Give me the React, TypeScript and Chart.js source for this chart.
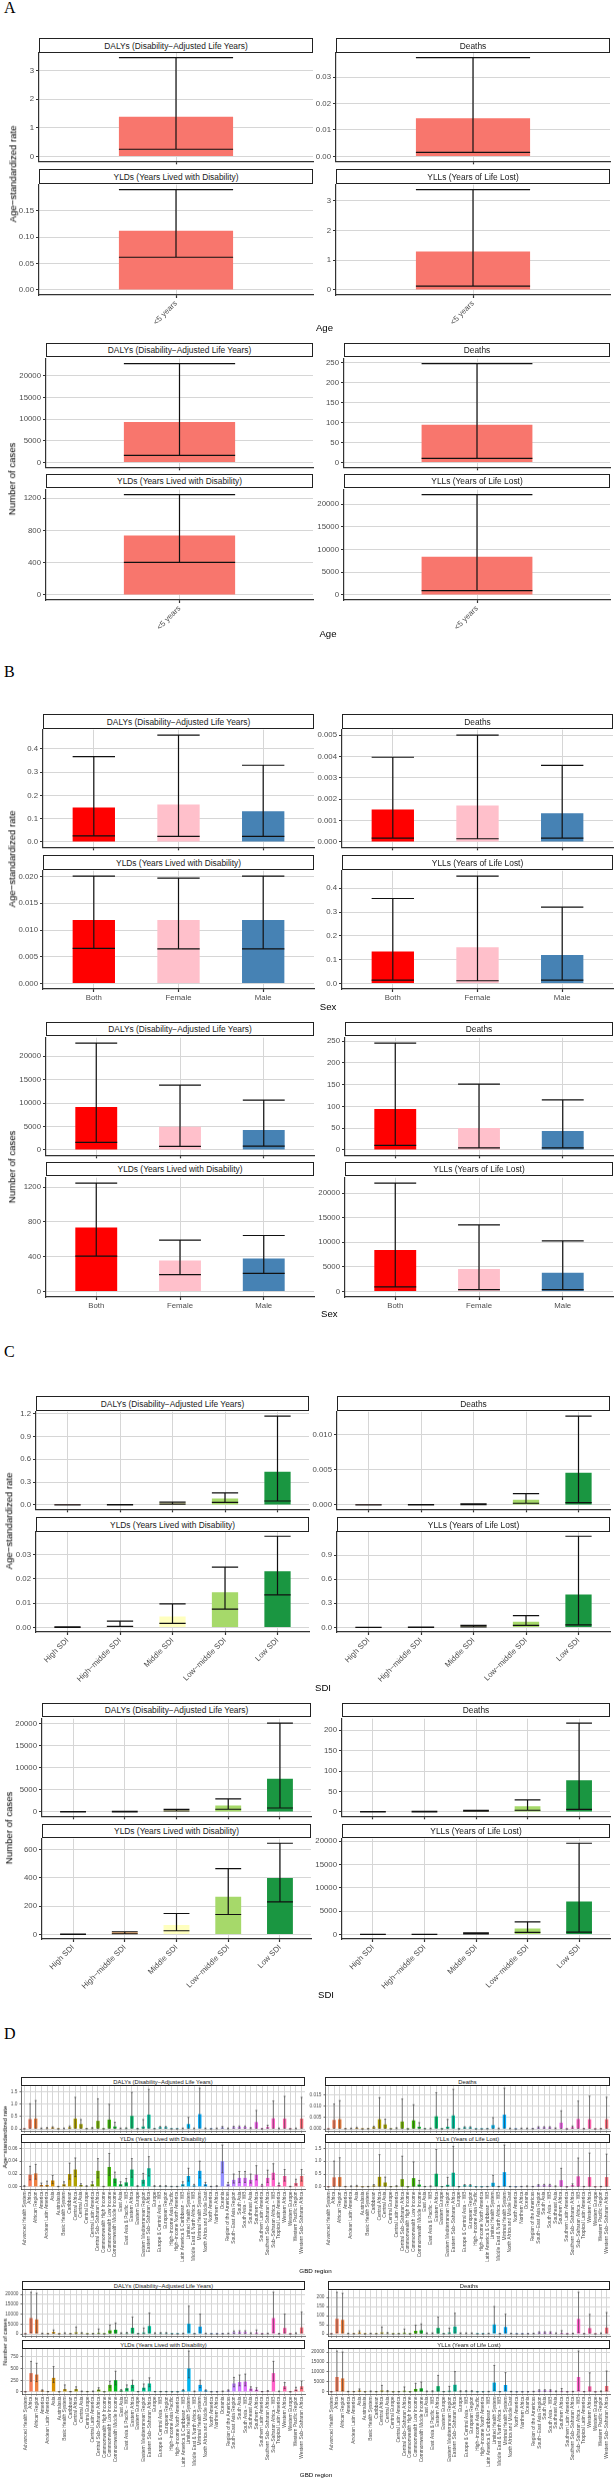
import { useEffect, useRef } from 'react';
import { Chart, registerables, CategoryScale } from 'chart.js';

// Discrete x scale with ggplot2-like expansion (0.6 of a category on each side).
class PanelCategoryScale extends CategoryScale {
  static id = 'panelcategory';
  static defaults = CategoryScale.defaults;
  buildTicks() {
    const ticks = super.buildTicks();
    this.expandRange();
    return ticks;
  }
  configure() {
    super.configure();
    this.expandRange();
  }
  expandRange() {
    (this as any)._startValue = (this as any).min - 0.6;
    (this as any)._valueRange = (this as any).max - (this as any).min + 1.2;
  }
}
Chart.register(...registerables, PanelCategoryScale);

// ---------------- categories ----------------
const MEASURES = [
  'DALYs (Disability−Adjusted Life Years)',
  'Deaths',
  'YLDs (Years Lived with Disability)',
  'YLLs (Years of Life Lost)',
];
const AGE_GROUPS = ['<5 years'];
const SEXES = ['Both', 'Female', 'Male'];
const SDI_LEVELS = ['High SDI', 'High−middle SDI', 'Middle SDI', 'Low−middle SDI', 'Low SDI'];
const GBD_REGIONS = [
  'Advanced Health System', 'Africa', 'African Region', 'America', 'Andean Latin America', 'Asia', 'Australasia', 'Basic Health System', 'Caribbean', 'Central Africa',
  'Central Asia', 'Central Europe', 'Central Latin America', 'Central Sub−Saharan Africa', 'Commonwealth High Income', 'Commonwealth Low Income', 'Commonwealth Middle Income', 'East Asia', 'East Asia & Pacific − WB', 'Eastern Africa',
  'Eastern Europe', 'Eastern Mediterranean Region', 'Eastern Sub−Saharan Africa', 'Europe', 'Europe & Central Asia − WB', 'European Region', 'High−income Asia Pacific', 'High−income North America', 'Latin America & Caribbean − WB', 'Limited Health System',
  'Middle East & North Africa − WB', 'Minimal Health System', 'North Africa and Middle East', 'North America', 'Northern Africa', 'Oceania', 'Region of the Americas', 'South−East Asia Region', 'South Asia', 'South Asia − WB',
  'Southeast Asia', 'Southern Africa', 'Southern Latin America', 'Southern Sub−Saharan Africa', 'Sub−Saharan Africa − WB', 'Tropical Latin America', 'Western Africa', 'Western Europe', 'Western Pacific Region', 'Western Sub−Saharan Africa',
];

// ---------------- tick labels ----------------
const TICKS_0_3 = ['0', '1', '2', '3'];
const TICKS_0_003 = ['0.00', '0.01', '0.02', '0.03'];
const TICKS_0_015 = ['0.00', '0.05', '0.10', '0.15'];
const TICKS_CASES_20K = ['0', '5000', '10000', '15000', '20000'];
const TICKS_CASES_250 = ['0', '50', '100', '150', '200', '250'];
const TICKS_CASES_200 = ['0', '50', '100', '150', '200'];
const TICKS_CASES_1200 = ['0', '400', '800', '1200'];
const TICKS_0_04 = ['0.0', '0.1', '0.2', '0.3', '0.4'];
const TICKS_0_0005 = ['0.000', '0.001', '0.002', '0.003', '0.004', '0.005'];
const TICKS_0_0020 = ['0.000', '0.005', '0.010', '0.015', '0.020'];
const TICKS_0_12 = ['0.0', '0.3', '0.6', '0.9', '1.2'];
const TICKS_0_0010 = ['0.000', '0.005', '0.010'];
const TICKS_0_03B = ['0.00', '0.01', '0.02', '0.03'];
const TICKS_0_09 = ['0.0', '0.3', '0.6', '0.9'];
const TICKS_CASES_600 = ['0', '200', '400', '600'];
const TICKS_0_15 = ['0.0', '0.5', '1.0', '1.5'];
const TICKS_0_0015 = ['0.000', '0.005', '0.010', '0.015'];
const TICKS_0_006 = ['0.00', '0.02', '0.04', '0.06'];
const TICKS_CASES_750 = ['0', '250', '500', '750'];

// ---------------- A: age ----------------
const ageRateDalys = [1.39], ageRateDalysLow = [0.25], ageRateDalysHigh = [3.46];
const ageRateDeaths = [0.0144], ageRateDeathsLow = [0.0015], ageRateDeathsHigh = [0.0374];
const ageRateYlds = [0.112], ageRateYldsLow = [0.062], ageRateYldsHigh = [0.19];
const ageRateYlls = [1.29], ageRateYllsLow = [0.13], ageRateYllsHigh = [3.37];
const ageCasesDalys = [9300], ageCasesDalysLow = [1600], ageCasesDalysHigh = [22800];
const ageCasesDeaths = [94], ageCasesDeathsLow = [10], ageCasesDeathsHigh = [247];
const ageCasesYlds = [737], ageCasesYldsLow = [405], ageCasesYldsHigh = [1245];
const ageCasesYlls = [8440], ageCasesYllsLow = [945], ageCasesYllsHigh = [22110];

// ---------------- B: sex ----------------
const sexRateDalys = [0.148, 0.161, 0.132], sexRateDalysLow = [0.026, 0.024, 0.024], sexRateDalysHigh = [0.367, 0.46, 0.33];
const sexRateDeaths = [0.00152, 0.00171, 0.00134], sexRateDeathsLow = [0.00018, 0.00015, 0.00018], sexRateDeathsHigh = [0.00396, 0.005, 0.00358];
const sexRateYlds = [0.0119, 0.0119, 0.0119], sexRateYldsLow = [0.0066, 0.0065, 0.0065], sexRateYldsHigh = [0.0201, 0.0197, 0.0201];
const sexRateYlls = [0.135, 0.152, 0.12], sexRateYllsLow = [0.015, 0.012, 0.015], sexRateYllsHigh = [0.357, 0.451, 0.321];
const sexCasesDalys = [9170, 4930, 4240], sexCasesDalysLow = [1600, 760, 830], sexCasesDalysHigh = [22780, 13820, 10630];
const sexCasesDeaths = [94, 50.3, 43.5], sexCasesDeathsLow = [10.5, 5, 5], sexCasesDeathsHigh = [245.5, 151, 115];
const sexCasesYlds = [735, 358, 381], sexCasesYldsLow = [408, 194, 210], sexCasesYldsHigh = [1246, 590, 644];
const sexCasesYlls = [8420, 4580, 3840], sexCasesYllsLow = [940, 400, 400], sexCasesYllsHigh = [22020, 13535, 10300];

// ---------------- C: SDI ----------------
const sdiRateDalys = [0.001, 0.003, 0.03, 0.085, 0.434], sdiRateDalysLow = [0.0003, 0.001, 0.01, 0.034, 0.051], sdiRateDalysHigh = [0.002, 0.005, 0.035, 0.157, 1.166];
const sdiRateDeaths = [0.00001, 0.00002, 0.0001, 0.00074, 0.00458], sdiRateDeathsLow = [0.000003, 0.00001, 0.00004, 0.00023, 0.00032], sdiRateDeathsHigh = [0.00002, 0.00004, 0.00015, 0.00162, 0.01269];
const sdiRateYlds = [0.0001, 0.0006, 0.00452, 0.01452, 0.0232], sdiRateYldsLow = [0.00005, 0.0004, 0.00164, 0.00753, 0.01342], sdiRateYldsHigh = [0.0002, 0.0026, 0.00973, 0.02486, 0.03764];
const sdiRateYlls = [0.001, 0.003, 0.02, 0.07, 0.411], sdiRateYllsLow = [0.0003, 0.001, 0.008, 0.025, 0.033], sdiRateYllsHigh = [0.002, 0.005, 0.025, 0.148, 1.134];
const sdiCasesDalys = [30, 60, 400, 1470, 7470], sdiCasesDalysLow = [10, 20, 200, 590, 880], sdiCasesDalysHigh = [60, 120, 550, 2930, 20070];
const sdiCasesDeaths = [0.3, 0.5, 3, 13.5, 77.8], sdiCasesDeathsLow = [0.1, 0.2, 1.5, 4, 6.3], sdiCasesDeathsHigh = [0.6, 1, 4, 29.4, 217.5];
const sdiCasesYlds = [1, 16, 66, 266, 400], sdiCasesYldsLow = [0.5, 5, 26, 141, 231], sdiCasesYldsHigh = [2, 19, 148, 466, 645];
const sdiCasesYlls = [10, 20, 300, 1290, 7070], sdiCasesYllsLow = [3, 8, 100, 430, 500], sdiCasesYllsHigh = [20, 40, 350, 2710, 19570];

// ---------------- D: GBD region (age-standardized rate) ----------------
const regRateDalys = [
  0.005, 0.40, 0.42, 0.02, 0.03, 0.06, 0.005, 0.02, 0.07, 0.42,
  0.20, 0.01, 0.03, 0.33, 0.005, 0.38, 0.10, 0.02, 0.03, 0.53,
  0.01, 0.10, 0.58, 0.01, 0.07, 0.07, 0.005, 0.005, 0.02, 0.20,
  0.02, 0.60, 0.02, 0.005, 0.02, 0.06, 0.02, 0.07, 0.08, 0.08,
  0.03, 0.28, 0.005, 0.08, 0.43, 0.02, 0.42, 0.005, 0.02, 0.42];
const regRateDalysLow = [
  0.001, 0.03, 0.03, 0.005, 0.01, 0.03, 0.001, 0.005, 0.02, 0.03,
  0.03, 0.003, 0.01, 0.02, 0.001, 0.03, 0.02, 0.005, 0.01, 0.04,
  0.003, 0.02, 0.04, 0.003, 0.03, 0.03, 0.001, 0.001, 0.005, 0.02,
  0.005, 0.04, 0.005, 0.001, 0.005, 0.03, 0.005, 0.03, 0.03, 0.03,
  0.01, 0.03, 0.001, 0.03, 0.03, 0.005, 0.03, 0.001, 0.005, 0.03];
const regRateDalysHigh = [
  0.01, 1.02, 1.15, 0.04, 0.06, 0.09, 0.01, 0.04, 0.12, 1.28,
  0.38, 0.02, 0.06, 1.22, 0.01, 1.00, 0.27, 0.04, 0.05, 1.48,
  0.02, 0.38, 1.60, 0.02, 0.10, 0.10, 0.01, 0.01, 0.04, 0.47,
  0.04, 1.65, 0.04, 0.01, 0.04, 0.10, 0.04, 0.11, 0.12, 0.12,
  0.06, 0.75, 0.01, 0.15, 1.13, 0.04, 1.32, 0.01, 0.04, 1.28];
const regRateDeaths = [
  0.00002, 0.0040, 0.0043, 0.0001, 0.0002, 0.0005, 0.00002, 0.0001, 0.0008, 0.0043,
  0.0020, 0.00005, 0.0003, 0.0033, 0.00002, 0.0038, 0.0010, 0.0001, 0.0002, 0.0056,
  0.00005, 0.0010, 0.0060, 0.00005, 0.0007, 0.0007, 0.00002, 0.00002, 0.0001, 0.0017,
  0.0002, 0.0063, 0.0002, 0.00002, 0.0002, 0.0002, 0.0001, 0.0007, 0.0007, 0.0007,
  0.0003, 0.0028, 0.00002, 0.0008, 0.0044, 0.0001, 0.0043, 0.00002, 0.0001, 0.0043];
const regRateDeathsLow = [
  0.00001, 0.0003, 0.0003, 0.00003, 0.00005, 0.0002, 0.00001, 0.00003, 0.0003, 0.0003,
  0.0003, 0.00002, 0.0001, 0.0002, 0.00001, 0.0003, 0.0002, 0.00003, 0.00005, 0.0004,
  0.00002, 0.0002, 0.0004, 0.00002, 0.0003, 0.0003, 0.00001, 0.00001, 0.00003, 0.0002,
  0.00005, 0.0004, 0.00005, 0.00001, 0.00005, 0.00005, 0.00003, 0.0003, 0.0003, 0.0003,
  0.0001, 0.0002, 0.00001, 0.0003, 0.0003, 0.00003, 0.0003, 0.00001, 0.00003, 0.0003];
const regRateDeathsHigh = [
  0.00004, 0.0110, 0.0125, 0.0002, 0.0004, 0.0008, 0.00004, 0.0002, 0.0012, 0.0138,
  0.0043, 0.0001, 0.0006, 0.0132, 0.00004, 0.0107, 0.0028, 0.0002, 0.0004, 0.0160,
  0.0001, 0.0042, 0.0175, 0.0001, 0.0010, 0.0010, 0.00004, 0.00004, 0.0002, 0.0050,
  0.0004, 0.0180, 0.0004, 0.00004, 0.0004, 0.0004, 0.0002, 0.0010, 0.0010, 0.0010,
  0.0005, 0.0080, 0.00004, 0.0013, 0.0123, 0.0002, 0.0145, 0.00004, 0.0002, 0.0140];
const regRateYlds = [
  0.001, 0.019, 0.021, 0.003, 0.003, 0.010, 0.0005, 0.004, 0.020, 0.027,
  0.003, 0.001, 0.004, 0.025, 0.0005, 0.031, 0.013, 0.004, 0.007, 0.027,
  0.001, 0.011, 0.029, 0.001, 0.001, 0.001, 0.0005, 0.0005, 0.004, 0.017,
  0.002, 0.025, 0.004, 0.0005, 0.001, 0.040, 0.004, 0.011, 0.014, 0.014,
  0.011, 0.019, 0.002, 0.014, 0.022, 0.003, 0.017, 0.0005, 0.006, 0.017];
const regRateYldsLow = [
  0.0005, 0.011, 0.012, 0.0015, 0.001, 0.005, 0.0002, 0.002, 0.012, 0.016,
  0.0015, 0.0005, 0.002, 0.014, 0.0002, 0.018, 0.007, 0.002, 0.003, 0.015,
  0.0005, 0.006, 0.017, 0.0005, 0.0005, 0.0005, 0.0002, 0.0002, 0.002, 0.009,
  0.001, 0.014, 0.002, 0.0002, 0.0005, 0.022, 0.002, 0.006, 0.007, 0.007,
  0.006, 0.011, 0.001, 0.007, 0.012, 0.0015, 0.009, 0.0002, 0.003, 0.009];
const regRateYldsHigh = [
  0.002, 0.032, 0.035, 0.006, 0.009, 0.018, 0.001, 0.008, 0.037, 0.045,
  0.005, 0.002, 0.008, 0.044, 0.001, 0.052, 0.023, 0.008, 0.013, 0.044,
  0.002, 0.021, 0.047, 0.002, 0.002, 0.002, 0.001, 0.001, 0.008, 0.029,
  0.004, 0.040, 0.007, 0.001, 0.002, 0.065, 0.007, 0.020, 0.024, 0.024,
  0.020, 0.033, 0.004, 0.026, 0.036, 0.006, 0.027, 0.001, 0.012, 0.027];
const regRateYlls = [
  0.001, 0.37, 0.38, 0.01, 0.02, 0.03, 0.001, 0.01, 0.05, 0.39,
  0.17, 0.005, 0.03, 0.30, 0.001, 0.34, 0.09, 0.01, 0.02, 0.51,
  0.005, 0.08, 0.55, 0.005, 0.06, 0.06, 0.001, 0.001, 0.01, 0.16,
  0.01, 0.57, 0.01, 0.001, 0.01, 0.02, 0.01, 0.06, 0.06, 0.06,
  0.02, 0.26, 0.001, 0.07, 0.41, 0.01, 0.38, 0.001, 0.01, 0.38];
const regRateYllsLow = [
  0.0005, 0.02, 0.02, 0.003, 0.005, 0.01, 0.0005, 0.003, 0.02, 0.02,
  0.02, 0.002, 0.01, 0.02, 0.0005, 0.02, 0.02, 0.003, 0.005, 0.03,
  0.002, 0.02, 0.03, 0.002, 0.02, 0.02, 0.0005, 0.0005, 0.003, 0.02,
  0.003, 0.03, 0.003, 0.0005, 0.003, 0.005, 0.003, 0.02, 0.02, 0.02,
  0.005, 0.02, 0.0005, 0.02, 0.02, 0.003, 0.02, 0.0005, 0.003, 0.02];
const regRateYllsHigh = [
  0.002, 1.00, 1.13, 0.02, 0.04, 0.06, 0.002, 0.02, 0.09, 1.25,
  0.38, 0.01, 0.05, 1.19, 0.002, 0.97, 0.25, 0.02, 0.04, 1.45,
  0.01, 0.37, 1.57, 0.01, 0.09, 0.09, 0.002, 0.002, 0.02, 0.45,
  0.02, 1.62, 0.02, 0.002, 0.02, 0.04, 0.02, 0.09, 0.10, 0.10,
  0.04, 0.72, 0.002, 0.12, 1.12, 0.02, 1.31, 0.002, 0.02, 1.27];

// ---------------- D: GBD region (number of cases) ----------------
const regCasesDalys = [
  50, 8000, 7300, 200, 100, 1000, 50, 300, 100, 800,
  400, 30, 100, 600, 30, 1800, 2100, 300, 400, 3100,
  100, 700, 4000, 300, 400, 400, 50, 50, 200, 5200,
  100, 3700, 200, 50, 50, 100, 200, 800, 900, 900,
  300, 700, 50, 200, 8000, 100, 3000, 30, 300, 3300];
const regCasesDalysLow = [
  10, 700, 600, 50, 30, 300, 10, 100, 30, 100,
  100, 10, 30, 100, 10, 400, 500, 100, 100, 500,
  30, 100, 600, 100, 100, 100, 10, 10, 50, 1000,
  30, 600, 50, 10, 10, 30, 50, 200, 200, 200,
  100, 100, 10, 50, 700, 30, 500, 10, 100, 600];
const regCasesDalysHigh = [
  100, 21000, 20500, 400, 200, 2000, 100, 600, 200, 3500,
  700, 60, 200, 2500, 60, 4500, 5500, 600, 800, 8500,
  200, 3000, 10500, 600, 700, 700, 100, 100, 400, 14000,
  200, 10000, 400, 100, 100, 200, 400, 1500, 1600, 1600,
  600, 2000, 100, 400, 21000, 200, 10000, 60, 600, 11000];
const regCasesDeaths = [
  0.5, 83, 77, 2, 1, 8, 0.5, 2, 1, 8,
  4, 0.3, 1, 7, 0.3, 17, 20, 3, 3, 33,
  1, 8, 40, 3, 3, 3, 0.5, 0.5, 2, 52,
  1, 38, 2, 0.5, 0.5, 1, 2, 8, 8, 8,
  3, 6, 0.5, 2, 82, 1, 32, 0.3, 3, 35];
const regCasesDeathsLow = [
  0.1, 8, 7, 0.5, 0.3, 2, 0.1, 0.5, 0.3, 1,
  1, 0.1, 0.3, 1, 0.1, 3, 4, 1, 1, 5,
  0.3, 1, 6, 1, 1, 1, 0.1, 0.1, 0.5, 8,
  0.3, 6, 0.5, 0.1, 0.1, 0.3, 0.5, 2, 2, 2,
  1, 1, 0.1, 0.5, 8, 0.3, 5, 0.1, 1, 5];
const regCasesDeathsHigh = [
  1, 228, 222, 4, 2, 17, 1, 4, 2, 38,
  8, 0.6, 2, 27, 0.6, 48, 55, 6, 6, 92,
  2, 32, 113, 6, 6, 6, 1, 1, 4, 150,
  2, 108, 4, 1, 1, 2, 4, 12, 12, 12,
  6, 18, 1, 4, 228, 2, 107, 0.6, 6, 117];
const regCasesYlds = [
  2, 400, 370, 30, 5, 300, 2, 60, 5, 60,
  10, 5, 10, 50, 2, 150, 250, 30, 80, 150,
  5, 90, 180, 5, 5, 5, 2, 2, 35, 500,
  10, 150, 30, 3, 3, 10, 30, 180, 210, 220,
  70, 50, 5, 15, 400, 10, 120, 2, 50, 120];
const regCasesYldsLow = [
  1, 230, 220, 15, 2, 200, 1, 40, 2, 40,
  5, 2, 5, 30, 1, 100, 150, 15, 50, 90,
  2, 60, 110, 2, 2, 2, 1, 1, 20, 300,
  5, 90, 15, 1, 1, 5, 15, 110, 130, 130,
  40, 30, 2, 8, 230, 5, 70, 1, 30, 70];
const regCasesYldsHigh = [
  4, 650, 610, 45, 10, 540, 4, 150, 10, 110,
  20, 10, 20, 90, 4, 230, 440, 50, 150, 250,
  10, 170, 300, 10, 10, 10, 4, 4, 50, 870,
  20, 250, 45, 6, 6, 20, 45, 310, 360, 380,
  110, 90, 10, 30, 650, 20, 200, 4, 100, 230];
const regCasesYlls = [
  50, 7500, 6800, 150, 100, 700, 50, 250, 100, 700,
  400, 30, 100, 600, 30, 1500, 1800, 250, 300, 2900,
  100, 600, 3600, 300, 350, 350, 50, 50, 150, 4700,
  100, 3500, 150, 50, 50, 80, 150, 700, 700, 700,
  250, 500, 50, 150, 7500, 100, 2800, 30, 250, 3000];
const regCasesYllsLow = [
  10, 600, 500, 40, 30, 200, 10, 80, 30, 100,
  100, 10, 30, 100, 10, 300, 400, 80, 80, 400,
  30, 100, 500, 80, 100, 100, 10, 10, 40, 800,
  30, 500, 40, 10, 10, 20, 40, 150, 150, 150,
  80, 100, 10, 40, 600, 30, 400, 10, 80, 500];
const regCasesYllsHigh = [
  100, 20500, 20000, 300, 200, 1500, 100, 500, 200, 3300,
  700, 60, 200, 2500, 60, 4300, 5000, 500, 600, 8300,
  200, 2800, 10200, 600, 650, 650, 100, 100, 300, 13300,
  200, 9700, 300, 100, 100, 160, 300, 1100, 1100, 1100,
  500, 1700, 100, 300, 20500, 200, 9600, 60, 500, 10500];

// ---------------- colours ----------------
// ggplot2 default hue palette: hcl(h, c = 100, l = 65)
function hueColor(h: number, c = 100, l = 65): string {
  const hr = (h * Math.PI) / 180;
  const U = c * Math.cos(hr);
  const V = c * Math.sin(hr);
  const Xn = 95.047, Yn = 100, Zn = 108.883;
  const un = (4 * Xn) / (Xn + 15 * Yn + 3 * Zn);
  const vn = (9 * Yn) / (Xn + 15 * Yn + 3 * Zn);
  const Y = l > 8 ? Yn * Math.pow((l + 16) / 116, 3) : (Yn * l) / 903.3;
  const u = U / (13 * l) + un;
  const v = V / (13 * l) + vn;
  const X = (9 * Y * u) / (4 * v);
  const Z = (Y * (12 - 3 * u - 20 * v)) / (4 * v);
  const x = X / 100, y = Y / 100, z = Z / 100;
  const lin = [
    3.2404542 * x - 1.5371385 * y - 0.4985314 * z,
    -0.969266 * x + 1.8760108 * y + 0.041556 * z,
    0.0556434 * x - 0.2040259 * y + 1.0572252 * z,
  ];
  const hex = lin
    .map((t) => {
      const g = t <= 0.0031308 ? 12.92 * t : 1.055 * Math.pow(t, 1 / 2.4) - 0.055;
      return Math.round(Math.min(1, Math.max(0, g)) * 255).toString(16).padStart(2, '0');
    })
    .join('');
  return '#' + hex;
}
const AGE_COLORS = [hueColor(15)];
const SEX_COLORS = ['#FF0000', '#FFC0CB', '#4682B4'];
const SDI_COLORS = ['#D7191C', '#FDAE61', '#FFFFBF', '#A6D96A', '#1A9641'];
const REGION_COLORS = GBD_REGIONS.map((_, i) => hueColor(15 + (360 / GBD_REGIONS.length) * i));

const AXIS = '#333333';
const GRID = '#d6d6d6';
const TICK_TEXT = '#4d4d4d';
const SANS = '"Liberation Sans", Arial, sans-serif';
const SERIF = '"Liberation Serif", "Times New Roman", serif';

interface Facet { title: string; val: number[]; low: number[]; high: number[]; ticks: string[] }
interface Style {
  rot: number; tickPx: number; stripPx: number; titlePx: number; barW: number; capW: number;
  errLw: number; errColor: string; axisLw: number; tickLen: number; labelSpace: number;
}
interface Figure {
  cats: string[]; colors: string[]; facets: Facet[];
  colL: [number, number]; colR: [number, number];
  s1: number; sh: number; p1b: number; s2: number; p2b: number;
  yTitle: string; yTitleX: number; xTitle: string; xTitleY: number; style: Style;
}

const mk = (i: number, val: number[], low: number[], high: number[], ticks: string[]): Facet => ({
  title: MEASURES[i], val, low, high, ticks,
});

const STYLE_AGE: Style = { rot: 45, tickPx: 7.8, stripPx: 8.4, titlePx: 9.6, barW: 0.5, capW: 0.5, errLw: 1.2, errColor: '#111', axisLw: 1.2, tickLen: 3, labelSpace: 40 };
const STYLE_SEX: Style = { ...STYLE_AGE, rot: 0, labelSpace: 18 };
const STYLE_SDI: Style = { ...STYLE_AGE, rot: 45, labelSpace: 60 };
const STYLE_REG: Style = { rot: 90, tickPx: 4.8, stripPx: 5.8, titlePx: 6.2, barW: 0.6, capW: 0.35, errLw: 0.6, errColor: '#333', axisLw: 0.7, tickLen: 1.5, labelSpace: 75 };

const FIGURES: Figure[] = [
  {
    cats: AGE_GROUPS, colors: AGE_COLORS, style: STYLE_AGE,
    facets: [
      mk(0, ageRateDalys, ageRateDalysLow, ageRateDalysHigh, TICKS_0_3),
      mk(1, ageRateDeaths, ageRateDeathsLow, ageRateDeathsHigh, TICKS_0_003),
      mk(2, ageRateYlds, ageRateYldsLow, ageRateYldsHigh, TICKS_0_015),
      mk(3, ageRateYlls, ageRateYllsLow, ageRateYllsHigh, TICKS_0_3),
    ],
    colL: [39, 313], colR: [336, 610], s1: 37.7, sh: 14.6, p1b: 162, s2: 169, p2b: 295,
    yTitle: 'Age−standardized rate', yTitleX: 12.5, xTitle: 'Age', xTitleY: 328.3,
  },
  {
    cats: AGE_GROUPS, colors: AGE_COLORS, style: STYLE_AGE,
    facets: [
      mk(0, ageCasesDalys, ageCasesDalysLow, ageCasesDalysHigh, TICKS_CASES_20K),
      mk(1, ageCasesDeaths, ageCasesDeathsLow, ageCasesDeathsHigh, TICKS_CASES_250),
      mk(2, ageCasesYlds, ageCasesYldsLow, ageCasesYldsHigh, TICKS_CASES_1200),
      mk(3, ageCasesYlls, ageCasesYllsLow, ageCasesYllsHigh, TICKS_CASES_20K),
    ],
    colL: [46, 313], colR: [343.5, 610], s1: 343.3, sh: 14.4, p1b: 467.5, s2: 474.3, p2b: 600,
    yTitle: 'Number of cases', yTitleX: 12, xTitle: 'Age', xTitleY: 634,
  },
  {
    cats: SEXES, colors: SEX_COLORS, style: STYLE_SEX,
    facets: [
      mk(0, sexRateDalys, sexRateDalysLow, sexRateDalysHigh, TICKS_0_04),
      mk(1, sexRateDeaths, sexRateDeathsLow, sexRateDeathsHigh, TICKS_0_0005),
      mk(2, sexRateYlds, sexRateYldsLow, sexRateYldsHigh, TICKS_0_0020),
      mk(3, sexRateYlls, sexRateYllsLow, sexRateYllsHigh, TICKS_0_04),
    ],
    colL: [43, 314], colR: [342, 613], s1: 714.3, sh: 15, p1b: 848, s2: 855, p2b: 989.3,
    yTitle: 'Age−standardized rate', yTitleX: 11.8, xTitle: 'Sex', xTitleY: 1007,
  },
  {
    cats: SEXES, colors: SEX_COLORS, style: STYLE_SEX,
    facets: [
      mk(0, sexCasesDalys, sexCasesDalysLow, sexCasesDalysHigh, TICKS_CASES_20K),
      mk(1, sexCasesDeaths, sexCasesDeathsLow, sexCasesDeathsHigh, TICKS_CASES_250),
      mk(2, sexCasesYlds, sexCasesYldsLow, sexCasesYldsHigh, TICKS_CASES_1200),
      mk(3, sexCasesYlls, sexCasesYllsLow, sexCasesYllsHigh, TICKS_CASES_20K),
    ],
    colL: [45.5, 314], colR: [345, 613], s1: 1022.3, sh: 14.4, p1b: 1155.5, s2: 1162.3, p2b: 1296.7,
    yTitle: 'Number of cases', yTitleX: 12, xTitle: 'Sex', xTitleY: 1314,
  },
  {
    cats: SDI_LEVELS, colors: SDI_COLORS, style: STYLE_SDI,
    facets: [
      mk(0, sdiRateDalys, sdiRateDalysLow, sdiRateDalysHigh, TICKS_0_12),
      mk(1, sdiRateDeaths, sdiRateDeathsLow, sdiRateDeathsHigh, TICKS_0_0010),
      mk(2, sdiRateYlds, sdiRateYldsLow, sdiRateYldsHigh, TICKS_0_03B),
      mk(3, sdiRateYlls, sdiRateYllsLow, sdiRateYllsHigh, TICKS_0_09),
    ],
    colL: [36, 309], colR: [337, 610], s1: 1396, sh: 14.7, p1b: 1509.5, s2: 1516.7, p2b: 1631.7,
    yTitle: 'Age−standardized rate', yTitleX: 8.6, xTitle: 'SDI', xTitleY: 1687.7,
  },
  {
    cats: SDI_LEVELS, colors: SDI_COLORS, style: STYLE_SDI,
    facets: [
      mk(0, sdiCasesDalys, sdiCasesDalysLow, sdiCasesDalysHigh, TICKS_CASES_20K),
      mk(1, sdiCasesDeaths, sdiCasesDeathsLow, sdiCasesDeathsHigh, TICKS_CASES_200),
      mk(2, sdiCasesYlds, sdiCasesYldsLow, sdiCasesYldsHigh, TICKS_CASES_600),
      mk(3, sdiCasesYlls, sdiCasesYllsLow, sdiCasesYllsHigh, TICKS_CASES_20K),
    ],
    colL: [42, 311], colR: [341.5, 610], s1: 1703.3, sh: 14.4, p1b: 1817, s2: 1824, p2b: 1939,
    yTitle: 'Number of cases', yTitleX: 8.6, xTitle: 'SDI', xTitleY: 1995,
  },
  {
    cats: GBD_REGIONS, colors: REGION_COLORS, style: STYLE_REG,
    facets: [
      mk(0, regRateDalys, regRateDalysLow, regRateDalysHigh, TICKS_0_15),
      mk(1, regRateDeaths, regRateDeathsLow, regRateDeathsHigh, TICKS_0_0015),
      mk(2, regRateYlds, regRateYldsLow, regRateYldsHigh, TICKS_0_006),
      mk(3, regRateYlls, regRateYllsLow, regRateYllsHigh, TICKS_0_15),
    ],
    colL: [21, 305], colR: [325, 610], s1: 2076.5, sh: 9.2, p1b: 2131, s2: 2134, p2b: 2189,
    yTitle: 'Age−standardized rate', yTitleX: 5, xTitle: 'GBD region', xTitleY: 2270.7,
  },
  {
    cats: GBD_REGIONS, colors: REGION_COLORS, style: STYLE_REG,
    facets: [
      mk(0, regCasesDalys, regCasesDalysLow, regCasesDalysHigh, TICKS_CASES_20K),
      mk(1, regCasesDeaths, regCasesDeathsLow, regCasesDeathsHigh, TICKS_CASES_200),
      mk(2, regCasesYlds, regCasesYldsLow, regCasesYldsHigh, TICKS_CASES_750),
      mk(3, regCasesYlls, regCasesYllsLow, regCasesYllsHigh, TICKS_CASES_20K),
    ],
    colL: [22, 305], colR: [328, 610], s1: 2280.7, sh: 9.2, p1b: 2336, s2: 2339.7, p2b: 2394,
    yTitle: 'Number of cases', yTitleX: 4.5, xTitle: 'GBD region', xTitleY: 2475,
  },
];

const PANEL_LETTERS = [
  { text: 'A', top: 0 },
  { text: 'B', top: 664 },
  { text: 'C', top: 1344 },
  { text: 'D', top: 2026 },
];

// Error bars (lower / upper with caps) drawn through the chart's own scales.
const errorBarPlugin = {
  id: 'errorBars',
  afterDatasetsDraw(chart: any, _args: any, opts: any) {
    const { ctx } = chart;
    const xs = chart.scales.x;
    const ys = chart.scales.y;
    const unit = Math.abs(xs.getPixelForValue(1) - xs.getPixelForValue(0));
    const half = (opts.capWidth * unit) / 2;
    ctx.save();
    ctx.strokeStyle = opts.color;
    ctx.lineWidth = opts.lineWidth;
    (opts.low as number[]).forEach((lo, i) => {
      const cx = xs.getPixelForValue(i);
      const yl = ys.getPixelForValue(lo);
      const yh = ys.getPixelForValue(opts.high[i]);
      ctx.beginPath();
      ctx.moveTo(cx, yl);
      ctx.lineTo(cx, yh);
      ctx.moveTo(cx - half, yh);
      ctx.lineTo(cx + half, yh);
      ctx.moveTo(cx - half, yl);
      ctx.lineTo(cx + half, yl);
      ctx.stroke();
    });
    ctx.restore();
  },
};

const AXW = 44;
const PT = 6;
const PR = 6;

function FacetChart(props: { fig: Figure; facet: Facet; x0: number; x1: number; y0: number; y1: number; bottom: boolean }) {
  const { fig, facet, x0, x1, y0, y1, bottom } = props;
  const st = fig.style;
  const ref = useRef<HTMLCanvasElement>(null);
  const XH = bottom ? st.labelSpace : st.tickLen + 3;
  const left = Math.round(x0) - AXW;
  const top = Math.round(y0) - PT;
  const width = Math.round(x1) - Math.round(x0) + AXW + PR;
  const height = Math.round(y1) - Math.round(y0) + PT + XH;

  useEffect(() => {
    if (!ref.current) return;
    const n = fig.cats.length;
    const maxHigh = Math.max(...facet.high, ...facet.val);
    const tickFont = { family: SANS, size: st.tickPx };
    const chart = new Chart(ref.current, {
      type: 'bar',
      data: {
        labels: fig.cats,
        datasets: [
          {
            data: facet.val,
            backgroundColor: fig.colors,
            borderWidth: 0,
            categoryPercentage: 1,
            barPercentage: n === 1 ? st.barW / 1.2 : st.barW,
          },
        ],
      },
      options: {
        animation: false,
        responsive: false,
        events: [],
        layout: { padding: { top: PT, right: PR, left: 0, bottom: 0 } },
        plugins: {
          legend: { display: false },
          tooltip: { enabled: false },
          errorBars: { low: facet.low, high: facet.high, capWidth: st.capW, lineWidth: st.errLw, color: st.errColor },
        } as any,
        scales: {
          x: {
            type: 'panelcategory' as any,
            offset: true,
            grid: { offset: false, color: GRID, lineWidth: 1, tickLength: st.tickLen, tickColor: AXIS, tickWidth: st.axisLw },
            border: { color: AXIS, width: st.axisLw },
            ticks: {
              autoSkip: false,
              minRotation: st.rot,
              maxRotation: st.rot,
              padding: 1,
              font: tickFont,
              color: TICK_TEXT,
              callback: (_v: any, i: number) => (bottom ? fig.cats[i] : ''),
            },
            afterFit: (s: any) => {
              s.height = XH;
            },
          } as any,
          y: {
            type: 'linear',
            min: -0.05 * maxHigh,
            max: 1.05 * maxHigh,
            afterBuildTicks: (s: any) => {
              s.ticks = facet.ticks.map((t) => ({ value: Number(t) }));
            },
            grid: { color: GRID, lineWidth: 1, tickLength: st.tickLen, tickColor: AXIS, tickWidth: st.axisLw },
            border: { color: AXIS, width: st.axisLw },
            ticks: {
              padding: 2,
              font: tickFont,
              color: TICK_TEXT,
              callback: (_v: any, i: number) => facet.ticks[i],
            },
            afterFit: (s: any) => {
              s.width = AXW;
            },
          } as any,
        },
      },
      plugins: [errorBarPlugin],
    });
    return () => chart.destroy();
  }, []);

  return (
    <canvas
      ref={ref}
      width={width}
      height={height}
      style={{ position: 'absolute', left, top, width, height }}
    />
  );
}

function Strip(props: { x0: number; x1: number; top: number; h: number; text: string; px: number }) {
  const { x0, x1, top, h, text, px } = props;
  return (
    <div
      style={{
        position: 'absolute',
        left: Math.round(x0),
        top: Math.round(top),
        width: Math.round(x1) - Math.round(x0),
        height: Math.round(h),
        boxSizing: 'border-box',
        border: '1px solid #222',
        background: '#fff',
        display: 'flex',
        alignItems: 'center',
        justifyContent: 'center',
        fontFamily: SANS,
        fontSize: px,
        color: '#1a1a1a',
        whiteSpace: 'nowrap',
        overflow: 'hidden',
      }}
    >
      {text}
    </div>
  );
}

function FigureBlock({ fig }: { fig: Figure }) {
  const st = fig.style;
  const p1t = fig.s1 + fig.sh;
  const p2t = fig.s2 + fig.sh;
  const cells = [
    { col: fig.colL, stripTop: fig.s1, y0: p1t, y1: fig.p1b, bottom: false },
    { col: fig.colR, stripTop: fig.s1, y0: p1t, y1: fig.p1b, bottom: false },
    { col: fig.colL, stripTop: fig.s2, y0: p2t, y1: fig.p2b, bottom: true },
    { col: fig.colR, stripTop: fig.s2, y0: p2t, y1: fig.p2b, bottom: true },
  ];
  return (
    <>
      {cells.map((c, i) => (
        <FacetChart key={'c' + i} fig={fig} facet={fig.facets[i]} x0={c.col[0]} x1={c.col[1]} y0={c.y0} y1={c.y1} bottom={c.bottom} />
      ))}
      {cells.map((c, i) => (
        <Strip key={'s' + i} x0={c.col[0]} x1={c.col[1]} top={c.stripTop} h={fig.sh} text={fig.facets[i].title} px={st.stripPx} />
      ))}
      <div
        style={{
          position: 'absolute',
          left: fig.yTitleX,
          top: (p1t + fig.p2b) / 2,
          transform: 'translate(-50%, -50%) rotate(-90deg)',
          fontFamily: SANS,
          fontSize: st.titlePx,
          color: '#000',
          whiteSpace: 'nowrap',
          lineHeight: 1,
        }}
      >
        {fig.yTitle}
      </div>
      <div
        style={{
          position: 'absolute',
          left: (fig.colL[0] + fig.colR[1]) / 2,
          top: fig.xTitleY,
          transform: 'translate(-50%, -50%)',
          fontFamily: SANS,
          fontSize: st.titlePx,
          color: '#000',
          whiteSpace: 'nowrap',
          lineHeight: 1,
        }}
      >
        {fig.xTitle}
      </div>
    </>
  );
}

export default function App() {
  return (
    <div
      style={{
        position: 'absolute',
        left: 0,
        top: 0,
        width: 615,
        height: 2480,
        overflow: 'hidden',
        background: '#fff',
      }}
    >
      {PANEL_LETTERS.map((p) => (
        <div
          key={p.text}
          style={{ position: 'absolute', left: 4, top: p.top, fontFamily: SERIF, fontSize: 16, lineHeight: 1, color: '#000' }}
        >
          {p.text}
        </div>
      ))}
      {FIGURES.map((f, i) => (
        <FigureBlock key={i} fig={f} />
      ))}
    </div>
  );
}
